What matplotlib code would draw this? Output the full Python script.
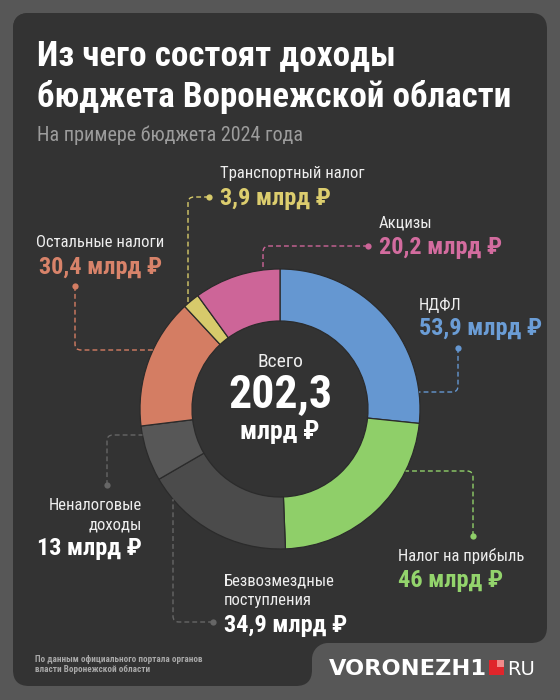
import matplotlib
matplotlib.use("Agg")
import matplotlib.pyplot as plt
from matplotlib import font_manager as fm
from matplotlib.patches import FancyBboxPatch, PathPatch, Rectangle, Circle
from matplotlib.path import Path
import numpy as np

W, H = 560, 700

# данные
categories = ["НДФЛ", "Налог на прибыль", "Безвозмездные\nпоступления",
              "Неналоговые\nдоходы", "Остальные налоги", "Транспортный налог", "Акцизы"]
values = [53.9, 46.0, 34.9, 13.0, 30.4, 3.9, 20.2]
value_labels = ["53,9 млрд ₽", "46 млрд ₽", "34,9 млрд ₽", "13 млрд ₽",
                "30,4 млрд ₽", "3,9 млрд ₽", "20,2 млрд ₽"]
slice_colors = ["#6597d1", "#8fcf69", "#4b4b4b", "#575757", "#d47d63", "#d7ca6b", "#cd6598"]
value_colors = ["#6b9dd6", "#93d46c", "#ffffff", "#ffffff", "#d8836a", "#dccd6e", "#d36c9f"]
line_colors = ["#6597d1", "#8fcf69", "#666666", "#666666", "#d47d63", "#d7ca6b", "#cd6598"]

title = "Из чего состоят доходы\nбюджета Воронежской области"
subtitle = "На примере бюджета 2024 года"
source = "По данным официального портала органов\nвласти Воронежской области"

names = {f.name for f in fm.fontManager.ttflist}
COND = "Roboto"
for cand in ["Roboto Condensed", "Liberation Sans Narrow", "Roboto"]:
    if cand in names:
        COND = cand
        break
FAM = [COND, "DejaVu Sans"]

BG = "#575757"
CARD = "#333333"

fig = plt.figure(figsize=(W / 100, H / 100), dpi=100, facecolor=BG)
ax = fig.add_axes([0, 0, 1, 1])
ax.set_facecolor(BG)


def Y(y):
    return H - y


# карточка
r = 16
ax.add_patch(FancyBboxPatch((13, Y(643)), 534, 630, boxstyle=f"round,pad=0,rounding_size={r}",
                            fc=CARD, ec="none"))
ax.add_patch(FancyBboxPatch((13, Y(686)), 299, 673, boxstyle=f"round,pad=0,rounding_size={r}",
                            fc=CARD, ec="none"))
ax.add_patch(Rectangle((312, Y(643 + r)), r, r, fc=CARD, ec="none"))
ax.add_patch(Circle((312 + r, Y(643 + r)), r, fc=BG, ec="none"))

# кольцо
cx, cy, R, RW = 280, 409, 140, 52
ax.pie(values, colors=slice_colors, startangle=90, counterclock=False,
       radius=R, center=(cx, Y(cy)),
       wedgeprops=dict(width=RW, edgecolor="#2b2b2b", linewidth=0.9))
ax.set_xlim(0, W)
ax.set_ylim(0, H)
ax.set_aspect("equal")
ax.axis("off")


def edge_x(y, side):
    return cx + side * np.sqrt(R ** 2 - (y - cy) ** 2)


def edge_y(x, side):
    return cy + side * np.sqrt(R ** 2 - (x - cx) ** 2)


def connector(pts, color, rad=6):
    verts = [np.array(pts[0], float)]
    codes = [Path.MOVETO]
    for i in range(1, len(pts) - 1):
        p0, p1, p2 = (np.array(p, float) for p in pts[i - 1:i + 2])
        a = p1 + rad * (p0 - p1) / np.linalg.norm(p0 - p1)
        b = p1 + rad * (p2 - p1) / np.linalg.norm(p2 - p1)
        verts += [a, p1, b]
        codes += [Path.LINETO, Path.CURVE3, Path.CURVE3]
    verts.append(np.array(pts[-1], float))
    codes.append(Path.LINETO)
    verts = [(v[0], Y(v[1])) for v in verts]
    ax.add_patch(PathPatch(Path(verts, codes), fill=False, edgecolor=color,
                           lw=1.0, linestyle=(0, (3.5, 2.2))))
    ax.plot(pts[0][0], Y(pts[0][1]), "o", ms=4.5, color=color, mec="none")


# выноски: точка, угол, конец на кольце
connectors = [
    [(458, 348), (458, 392), (edge_x(392, 1), 392)],
    [(473, 536), (473, 471), (edge_x(471, 1), 471)],
    [(213, 622), (173, 622), (173, edge_y(173, 1))],
    [(107, 485), (107, 435), (edge_x(435, -1), 435)],
    [(75, 286), (75, 350), (edge_x(350, -1), 350)],
    [(209, 197), (188, 197), (188, edge_y(188, -1))],
    [(368, 246), (263, 246), (263, edge_y(263, -1))],
]
for pts, col in zip(connectors, line_colors):
    connector(pts, col)

# подписи: x, базовая линия названия, базовая линия значения, выравнивание
label_pos = [
    (419, 310, 335, "left"),
    (398, 561, 587, "left"),
    (224, 586, 632, "left"),
    (142, 510, 555, "right"),
    (36, 247, 274, "left"),
    (220, 178, 205, "left"),
    (379, 227, 254, "left"),
]
for name, val, vcol, (x, yn, yv, ha) in zip(categories, value_labels, value_colors, label_pos):
    lines = name.split("\n")
    for k, ln in enumerate(lines):
        ax.text(x, Y(yn + 19 * k), ln, color="#eeeeee", fontsize=12, family=FAM,
                ha=ha, va="baseline")
    ax.text(x + (3 if ha == "left" and x < 60 else 0), Y(yv), val, color=vcol, fontsize=17.5,
            family=FAM, weight="bold", ha=ha, va="baseline")

# центр
total = f"{sum(values):.1f}".replace(".", ",")
ax.text(cx, Y(367), "Всего", color="#eeeeee", fontsize=14, family=FAM, ha="center", va="baseline")
ax.text(cx, Y(407), total, color="white", fontsize=33, family=FAM, weight="bold",
        ha="center", va="baseline")
ax.text(cx, Y(439), "млрд ₽", color="white", fontsize=18.5, family=FAM, weight="bold",
        ha="center", va="baseline")

# заголовок
t1, t2 = title.split("\n")
ax.text(37, Y(65), t1, color="white", fontsize=25.2, family=FAM, weight="bold", va="baseline")
ax.text(37, Y(107), t2, color="white", fontsize=25.2, family=FAM, weight="bold", va="baseline")
ax.text(37, Y(141), subtitle, color="#9c9c9c", fontsize=14.5, family=FAM, va="baseline")

# подвал
s1, s2 = source.split("\n")
ax.text(35, Y(662.5), s1, color="#a8a8a8", fontsize=6.6, family=FAM, weight="bold", va="baseline")
ax.text(35, Y(672.5), s2, color="#a8a8a8", fontsize=6.6, family=FAM, weight="bold", va="baseline")

ax.text(329, Y(675), "VORONEZH1", color="white", fontsize=16.2, family="DejaVu Sans",
        weight="heavy", va="baseline")
ax.add_patch(Rectangle((489, Y(675)), 15, 15, fc="#e0252b", ec="none"))
ax.add_patch(Rectangle((497, Y(667)), 7, 7, fc="#f28a8a", ec="none"))
ax.text(507, Y(675), "RU", color="white", fontsize=14, family="DejaVu Sans", va="baseline")

fig.savefig("out.png", dpi=100, facecolor=BG)
